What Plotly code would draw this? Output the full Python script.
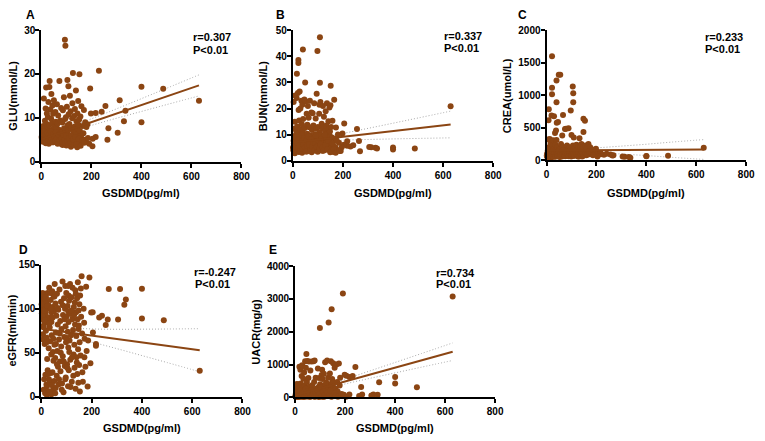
import plotly.graph_objects as go

# ---------------- data ----------------
gsdmd = [630, 487, 400, 400, 336, 330, 313, 305, 268, 264, 256, 241, 230, 217, 217, 205, 204, 198, 195, 191, 184,
         2, 3, 4, 5, 5, 6, 7, 8, 8, 9, 10, 10, 11, 12, 13, 14, 15, 16, 17, 18, 19, 20, 20, 21, 22, 22, 22, 23, 24, 25, 26, 27, 28, 29, 30,
         31, 32, 33, 34, 35, 36, 37, 38, 39, 40, 40, 40, 41, 43, 44, 45, 46, 47, 48, 49, 50, 51, 52, 53, 55, 56, 57, 58, 60, 61, 62, 63, 65, 66, 67, 68, 70, 72, 74, 75,
         76, 78, 79, 80, 82, 84, 85, 86, 88, 90, 91, 93, 94, 95, 96, 97, 98, 99, 100, 102, 104, 105, 106, 107, 107, 108, 108, 109, 110, 112, 114, 115, 117, 118, 120, 121, 123, 124, 126, 128, 129,
         131, 132, 133, 134, 135, 136, 138, 139, 140, 142, 143, 144, 145, 146, 147, 148, 148, 150, 151, 152, 153, 154, 156, 158, 160, 162, 165, 168, 170, 172, 175, 178, 180,
         1, 3, 6, 9, 12, 14, 18, 21, 24, 27, 30, 33, 36, 38, 42, 45, 48, 52, 55, 58, 62, 65, 70, 73, 77, 81, 85, 89, 92, 95, 99, 103, 107, 111, 116, 119, 122, 127, 130, 137, 141, 149, 157, 163, 171, 186]

glu = [13.9, 16.6, 17.1, 9.0, 11.6, 9.2, 14.0, 6.6, 7.6, 5.0, 12.7, 11.4, 20.7, 11.1, 5.6, 5.2, 3.5, 11.0, 16.7, 4.1, 8.5,
       5.2, 4.6, 6.1, 7.2, 5.5, 4.9, 6.6, 5.8, 8.1, 4.7, 14.4, 6.3, 5.1, 7.5, 4.4, 9.3, 5.6, 6.9, 12.1, 4.9, 16.9, 6.0, 5.3, 8.6, 4.5, 6.8, 11.0, 5.1, 7.9, 4.3, 10.2, 5.7, 13.6, 6.2, 4.1,
       8.3, 17.0, 18.4, 5.4, 7.0, 11.9, 4.8, 6.4, 9.8, 5.0, 15.4, 6.7, 4.6, 8.8, 12.8, 5.9, 7.4, 10.9, 4.4, 6.1, 14.0, 5.2, 8.0, 4.7, 6.5, 11.3, 5.5, 9.1, 4.5, 7.8, 13.1, 5.9, 8.7, 4.3, 10.5, 6.3, 5.0, 18.4, 7.2, 4.6,
       9.4, 5.6, 12.2, 4.0, 6.9, 8.9, 3.8, 11.7, 5.3, 14.7, 7.6, 4.2, 27.8, 9.7, 26.4, 5.1, 10.1, 6.4, 3.7, 12.5, 18.6, 8.3, 4.9, 7.1, 5.7, 17.2, 6.0, 10.8, 4.4, 8.6, 15.0, 5.2, 11.5, 3.4, 7.7, 5.5, 9.9, 13.3, 20.2, 6.8, 4.7,
       10.4, 5.9, 8.0, 12.0, 4.3, 7.3, 16.2, 6.6, 9.2, 5.0, 3.3, 11.0, 7.5, 4.5, 13.8, 6.2, 8.4, 5.5, 9.6, 19.9, 4.1, 7.0, 10.3, 5.8, 12.6, 4.8, 8.1, 6.5, 11.8, 5.0, 9.0, 4.5, 7.9,
       5.6, 6.4, 5.0, 6.9, 5.4, 6.0, 4.2, 5.8, 6.5, 4.9, 6.1, 5.3, 4.6, 6.8, 5.1, 4.4, 6.3, 5.6, 4.8, 6.7, 5.2, 4.1, 6.0, 4.9, 6.6, 5.3, 4.5, 6.1, 5.0, 4.3, 5.8, 4.6, 3.9, 5.4, 4.2, 5.9, 4.0, 5.1, 3.8, 5.6, 4.0, 5.2, 3.6, 4.9, 4.3, 5.4]

bun = [20.9, 4.8, 5.1, 4.4, 4.8, 5.0, 5.2, 5.3, 3.7, 7.6, 12.2, 6.0, 5.5, 5.8, 7.5, 14.3, 6.2, 10.5, 5.2, 3.8, 7.0,
       4.1, 22.5, 6.8, 3.2, 8.9, 5.5, 12.4, 2.9, 15.0, 25.0, 7.3, 4.6, 9.8, 6.1, 11.5, 3.7, 24.0, 33.3, 5.0, 13.2, 7.9, 26.0, 4.2, 10.7, 38.6, 37.4, 6.4, 19.5, 3.4, 15.5, 8.2, 26.5, 5.6, 12.0, 20.0,
       7.1, 4.5, 9.0, 23.0, 6.0, 14.0, 3.1, 21.5, 11.2, 8.0, 5.4, 42.6, 16.0, 6.7, 9.5, 4.0, 23.5, 7.7, 12.6, 30.0, 5.2, 22.8, 9.2, 6.3, 18.0, 3.6, 10.4, 13.8, 21.0, 7.4, 4.8, 16.5, 8.6, 12.9, 5.9, 23.0, 9.7, 6.2, 18.5, 3.3,
       11.8, 7.0, 18.2, 4.9, 13.5, 8.1, 22.0, 6.0, 10.2, 4.4, 16.2, 7.6, 12.3, 25.7, 5.7, 9.3, 42.0, 6.5, 13.0, 8.4, 4.5, 18.0, 21.5, 7.2, 11.0, 47.2, 29.9, 5.3, 22.5, 9.9, 6.8, 14.2, 3.9, 12.7, 21.0, 8.7, 5.0, 16.9, 7.9, 11.6, 4.3,
       19.0, 6.6, 9.1, 13.5, 7.3, 22.0, 5.5, 10.8, 4.6, 15.2, 8.0, 12.2, 6.1, 20.4, 9.6, 5.8, 11.3, 21.3, 28.7, 7.0, 13.0, 4.9, 9.0, 15.4, 6.4, 3.4, 23.4, 8.5, 5.2, 12.8, 7.8, 4.2, 10.1,
       5.1, 7.7, 4.4, 6.2, 9.1, 5.3, 7.0, 4.9, 8.4, 5.9, 3.8, 7.4, 10.0, 4.7, 6.4, 8.8, 5.1, 3.6, 7.9, 5.7, 9.4, 6.2, 4.1, 8.3, 5.6, 7.1, 4.0, 6.9, 9.6, 5.4, 3.5, 7.5, 4.8, 6.3, 8.9, 5.1, 3.9, 9.8, 6.0, 4.4, 7.7, 3.3, 6.7, 4.6, 3.1, 3.8]

crea = [194, 70, 68, 62, 40, 50, 55, 58, 80, 75, 90, 100, 85, 110, 95, 120, 60, 180, 95, 130, 160,
        60, 110, 80, 45, 150, 95, 320, 70, 617, 786, 120, 55, 200, 88, 328, 65, 140, 250, 40, 100, 75, 687, 90, 170, 1597, 1115, 1015, 130, 60, 230, 85, 310, 105, 180, 677,
        95, 70, 150, 420, 55, 240, 80, 460, 120, 1224, 891, 313, 577, 100, 200, 65, 587, 140, 90, 1313, 75, 160, 110, 50, 1313, 180, 70, 250, 130, 95, 60, 380, 210, 697, 85, 150, 120, 90, 480, 65,
        160, 487, 110, 75, 230, 100, 160, 70, 492, 130, 90, 200, 120, 80, 150, 767, 110, 60, 388, 140, 95, 1134, 230, 1030, 891, 120, 70, 353, 180, 100, 150, 200, 90, 130, 240, 80, 160, 110, 60, 210, 85,
        130, 340, 100, 170, 70, 230, 120, 90, 250, 110, 60, 180, 140, 200, 80, 437, 637, 120, 90, 160, 100, 607, 230, 130, 80, 190, 120, 250, 150, 95, 200, 110, 170,
        70, 95, 110, 85, 130, 60, 100, 75, 140, 55, 90, 115, 65, 130, 85, 70, 140, 60, 95, 120, 80, 150, 100, 70, 115, 135, 90, 65, 110, 145, 80, 125, 95, 70, 140, 105, 85, 120, 60, 100, 130, 75, 110, 90, 140, 80]

egfr = [29.5, 87, 122.7, 88.9, 110.5, 104.7, 122.4, 87.7, 122.4, 87.7, 81.5, 92, 90, 58, 60, 73, 96, 95.8, 38, 135.6, 11.8,
        95, 110, 102, 88, 118, 71, 65, 99, 80, 8, 113, 106, 20, 84, 60, 116, 4, 25, 96, 75, 108, 14, 91, 67, 2, 12, 100, 43, 118, 30, 88, 6, 104, 55, 20,
        124, 90, 79, 17, 63, 101, 110, 27, 48, 85, 96, 3, 70, 120, 28, 102, 51, 8, 66, 114, 97, 18, 59, 128, 44, 106, 10, 73, 92, 24, 117, 52, 82, 34, 99, 14, 65, 122, 40, 86,
        29, 108, 57, 77, 15, 131, 46, 93, 5, 112, 68, 35, 100, 126, 80, 22, 62, 118, 91, 37, 103, 74, 12, 97, 56, 115, 85, 30, 109, 64, 128, 42, 94, 70, 113, 17, 88, 124, 76, 48, 102,
        59, 33, 107, 82, 121, 9, 96, 69, 45, 112, 26, 88, 130, 54, 16, 98, 77, 36, 105, 62, 6, 115, 47, 91, 137, 72, 17, 100, 84, 66, 34, 125, 52,
        105, 92, 116, 79, 98, 87, 113, 62, 103, 26, 83, 6, 118, 100, 13, 90, 41, 114, 4, 60, 37, 101, 20, 72, 50, 8, 104, 40, 88, 20, 67, 33, 126, 51, 11, 98, 45, 24, 93, 117, 39, 81, 123, 28, 45, 64]

uacr = [3070, 305, 620, 420, 463, 80, 90, 60, 90, 314, 40, 928, 650, 620, 90, 660, 20, 690, 80, 3160, 40,
        30, 120, 60, 250, 15, 80, 410, 45, 180, 310, 25, 90, 350, 140, 10, 220, 400, 60, 930, 160, 50, 280, 35, 840, 110, 190, 70, 420, 15, 230, 650, 95, 978, 300, 50,
        120, 30, 570, 200, 40, 760, 15, 350, 90, 1100, 160, 260, 60, 900, 25, 1323, 110, 470, 40, 1110, 280, 180, 35, 590, 1090, 120, 20, 330, 80, 820, 150, 45, 240, 1090, 60, 370, 100, 210, 1100, 30,
        470, 1120, 90, 20, 600, 180, 60, 270, 120, 40, 880, 200, 70, 320, 590, 30, 150, 2113, 400, 110, 250, 45, 680, 170, 330, 20, 840, 130, 560, 80, 330, 720, 30, 210, 1070, 380, 100, 450, 60, 1120, 250,
        110, 600, 40, 2281, 400, 150, 40, 730, 290, 80, 1100, 360, 20, 2685, 420, 170, 560, 230, 60, 1040, 310, 450, 130, 900, 40, 260, 1000, 470, 180, 80, 1030, 360, 600,
        40, 10, 70, 150, 20, 95, 60, 200, 30, 120, 80, 15, 170, 45, 260, 100, 30, 190, 60, 140, 15, 220, 70, 130, 25, 160, 50, 230, 80, 10, 120, 300, 60, 180, 20, 90, 240, 40, 150, 70, 200, 35, 120, 60, 15, 100]

# regression line and 95% confidence band
fit_x = [0, 100, 200, 300, 400, 500, 630]
glu_fit = [5.12, 7.07, 9.01, 10.96, 12.90, 14.85, 17.38]
glu_hi = [5.85, 7.67, 9.76, 12.03, 14.36, 16.71, 19.78]
glu_lo = [4.39, 6.47, 8.26, 9.89, 11.44, 12.99, 14.98]
bun_fit = [7.06, 8.15, 9.24, 10.33, 11.42, 12.51, 13.93]
bun_hi = [8.22, 8.96, 10.54, 12.45, 14.42, 16.41, 19.03]
bun_lo = [5.90, 7.34, 7.94, 8.21, 8.42, 8.61, 8.83]
crea_fit = [150, 152.7, 155.4, 158.1, 160.8, 163.5, 167]
crea_hi = [185.3, 177.7, 192.8, 219, 247.8, 280, 319]
crea_lo = [114.7, 127.7, 118, 97.2, 73.8, 47, 15]
egfr_fit = [77.4, 73.5, 69.6, 65.7, 61.8, 57.9, 52.9]
egfr_hi = [83.2, 78.7, 77.1, 76.7, 76.8, 77.0, 77.4]
egfr_lo = [71.6, 68.3, 62.1, 54.7, 46.8, 38.9, 28.4]
uacr_fit = [61, 272, 483, 694, 905, 1116, 1390]
uacr_hi = [127, 322, 556, 808, 1064, 1321, 1657]
uacr_lo = [0, 222, 410, 580, 746, 911, 1123]

letters = ["A", "B", "C", "D", "E"]
y_titles = ["GLU(mmol/L)", "BUN(mmol/L)", "CREA(umol/L)", "eGFR(ml/min)", "UACR(mg/g)"]
x_title = "GSDMD(pg/ml)"
r_texts = ["r=0.307", "r=0.337", "r=0.233", "r=-0.247", "r=0.734"]
p_text = "P<0.01"
x_ticks = [0, 200, 400, 600, 800]
y_ticks = [[0, 10, 20, 30], [0, 10, 20, 30, 40, 50], [0, 500, 1000, 1500, 2000],
           [0, 50, 100, 150], [0, 1000, 2000, 3000, 4000]]

for arr in (glu, bun, crea, egfr, uacr):
    assert len(arr) == len(gsdmd), (len(arr), len(gsdmd))

# ---------------- layout helpers ----------------
W, H = 765, 441
def px_x(v):
    return v / W
def px_y(v):
    return (H - v) / H

# plot boxes in pixels: (left, right, top, bottom)
boxes = [(39, 242.3, 24.7, 160), (294.5, 498, 24.7, 159.3), (552.2, 755, 24.7, 158.7),
         (39, 243.3, 266, 401.7), (296.8, 500, 267.3, 402.3)]
ytitle_x = [10, 265, 512, 9, 257]
xtitle_y = [192, 192, 192, 434, 434]
letter_pos = [(28, 9), (282, 9), (528, 9), (21, 251), (274, 251)]
rtext_pos = [(190.7, 32.3, 45), (445.7, 30.7, 43.3), (711, 31.7, 44.3), (191.7, 273.3, 285.7), (437.7, 274, 286)]

BROWN = "#8B4513"
GREY = "#a8a8a8"
FONT = "Arial, Liberation Sans, sans-serif"

series = [(glu, glu_fit, glu_hi, glu_lo), (bun, bun_fit, bun_hi, bun_lo),
          (crea, crea_fit, crea_hi, crea_lo), (egfr, egfr_fit, egfr_hi, egfr_lo),
          (uacr, uacr_fit, uacr_hi, uacr_lo)]

fig = go.Figure()
layout = dict(width=W, height=H, margin=dict(l=0, r=0, t=0, b=0),
              paper_bgcolor="white", plot_bgcolor="white", showlegend=False)
annotations = []

for i, (ys, fy, hi, lo) in enumerate(series):
    k = "" if i == 0 else str(i + 1)
    xa, ya = "x" + k, "y" + k
    for band in (hi, lo):
        fig.add_trace(go.Scatter(x=fit_x, y=band, mode="lines", xaxis=xa, yaxis=ya,
                                 line=dict(color=GREY, width=1, dash="1px,2px", shape="spline"),
                                 hoverinfo="skip"))
    fig.add_trace(go.Scatter(x=gsdmd, y=ys, mode="markers", xaxis=xa, yaxis=ya,
                             marker=dict(color=BROWN, size=6, line=dict(width=0)),
                             cliponaxis=False))
    fig.add_trace(go.Scatter(x=fit_x, y=fy, mode="lines", xaxis=xa, yaxis=ya,
                             line=dict(color=BROWN, width=2)))
    l, r, t, b = boxes[i]
    common = dict(showline=True, linewidth=2, linecolor="black", ticks="outside",
                  ticklen=4, tickwidth=2, tickcolor="black", showgrid=False, zeroline=False,
                  tickfont=dict(family=FONT, size=10, color="black", weight="bold"),
                  fixedrange=True)
    layout["xaxis" + k] = dict(common, domain=[px_x(l), px_x(r)], range=[0, 800],
                               tickvals=x_ticks, anchor=ya)
    ymax = y_ticks[i][-1]
    layout["yaxis" + k] = dict(common, domain=[px_y(b), px_y(t)], range=[0, ymax],
                               tickvals=y_ticks[i], anchor=xa, ticklabelstandoff=-2)
    # titles & labels
    annotations.append(dict(text="<b>%s</b>" % x_title, xref="paper", yref="paper",
                            x=px_x((l + r) / 2), y=px_y(xtitle_y[i]), showarrow=False,
                            xanchor="center", yanchor="middle",
                            font=dict(family=FONT, size=11, color="black")))
    annotations.append(dict(text="<b>%s</b>" % y_titles[i], xref="paper", yref="paper",
                            x=px_x(ytitle_x[i]), y=px_y((t + b) / 2), showarrow=False,
                            textangle=-90, xanchor="center", yanchor="middle",
                            font=dict(family=FONT, size=11, color="black")))
    lx, ly = letter_pos[i]
    annotations.append(dict(text="<b>%s</b>" % letters[i], xref="paper", yref="paper",
                            x=px_x(lx), y=px_y(ly), showarrow=False,
                            xanchor="center", yanchor="middle",
                            font=dict(family=FONT, size=12, color="black")))
    rx, ry1, ry2 = rtext_pos[i]
    annotations.append(dict(text="<b>%s</b>" % r_texts[i], xref="paper", yref="paper",
                            x=px_x(rx), y=px_y(ry1), showarrow=False,
                            xanchor="left", yanchor="middle",
                            font=dict(family=FONT, size=11, color="black")))
    annotations.append(dict(text="<b>%s</b>" % p_text, xref="paper", yref="paper",
                            x=px_x(rx + (1.6 if i == 3 else 0)), y=px_y(ry2), showarrow=False,
                            xanchor="left", yanchor="middle",
                            font=dict(family=FONT, size=11, color="black")))

layout["annotations"] = annotations
fig.update_layout(**layout)
fig.write_html("out.html")
